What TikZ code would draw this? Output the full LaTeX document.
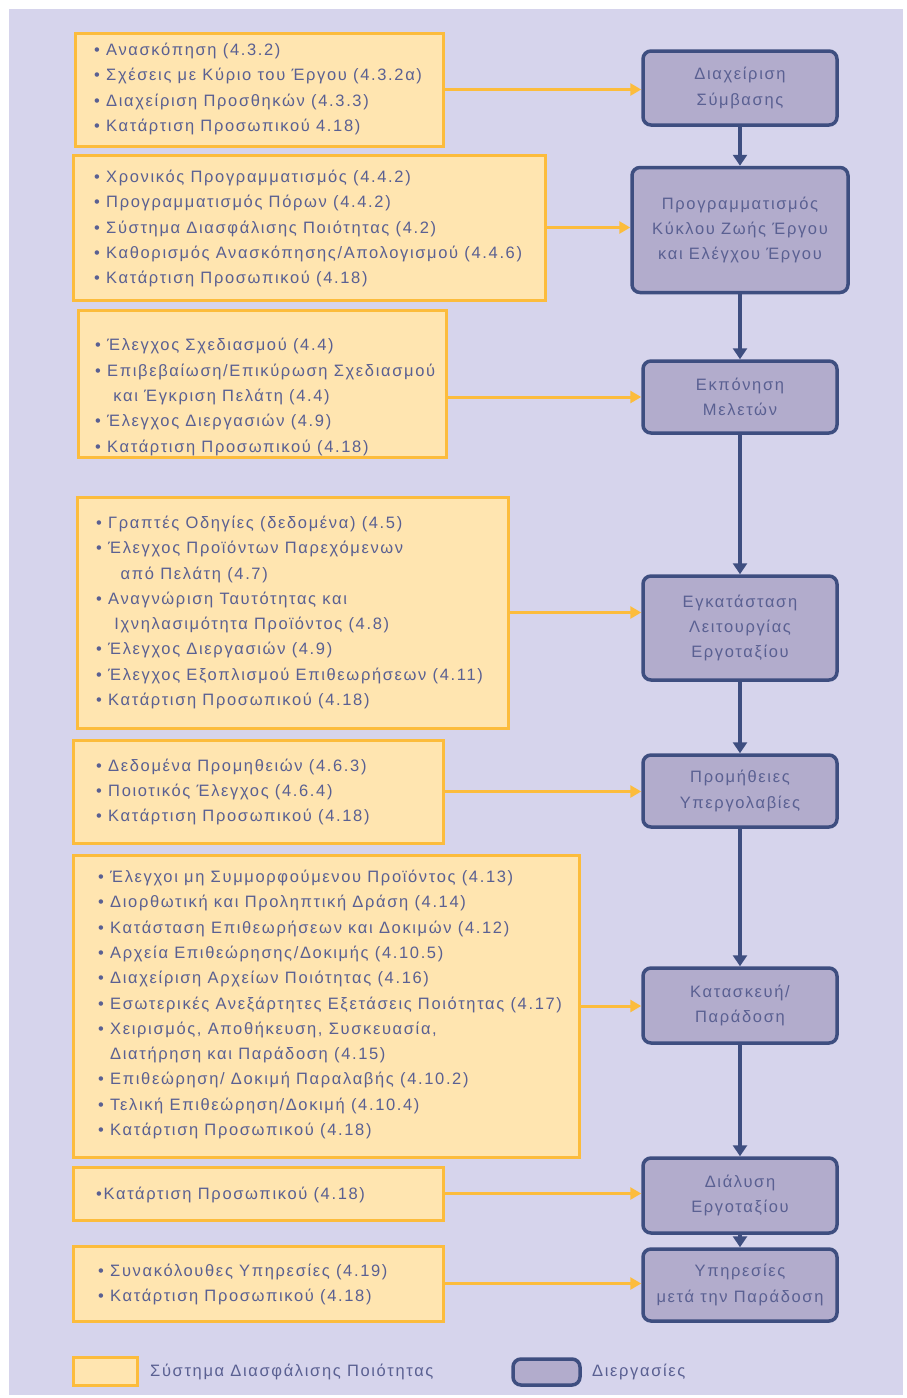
\documentclass[tikz,border=0pt]{standalone}
\usepackage{fontspec}
\setmainfont{Liberation Sans}[LetterSpace=10]
\usetikzlibrary{arrows.meta}
\definecolor{bgcol}{RGB}{214,212,236}
\definecolor{qfill}{RGB}{255,229,176}
\definecolor{qline}{RGB}{252,188,60}
\definecolor{pfill}{RGB}{178,172,204}
\definecolor{pline}{RGB}{62,78,128}
\definecolor{tcol}{RGB}{90,96,146}
\tikzset{
  qbox/.style={draw=qline, fill=qfill, line width=3pt, inner sep=0pt},
  pbox/.style={draw=pline, fill=pfill, line width=3.5pt, rounded corners=8pt, inner sep=0pt, minimum width=194pt},
  qtext/.style={anchor=west, align=left, inner sep=0pt, text=tcol, font=\fontsize{16.5}{25.3}\selectfont},
  ptext/.style={align=center, inner sep=0pt, text=tcol, font=\fontsize{16.5}{25.3}\selectfont},
  oarrow/.style={draw=qline, line width=3pt, -{Triangle[length=11pt,width=12pt]}},
  parrow/.style={draw=pline, line width=3.5pt, -{Triangle[length=11pt,width=14pt]}},
}
\newcommand{\bl}{•\ }
\newcommand{\ind}{\phantom{•\ }}
\begin{document}
\begin{tikzpicture}[x=1pt,y=-1pt]
\useasboundingbox (0,0) rectangle (907,1398);
\fill[bgcol] (9,9) rectangle (903,1395);

% process boxes
\node[pbox, minimum height=74pt] (R1) at (740,88) {};
\node[pbox, minimum width=216pt, minimum height=125pt] (R2) at (740,230) {};
\node[pbox, minimum height=72pt] (R3) at (740,397) {};
\node[pbox, minimum height=104pt] (R4) at (740,628) {};
\node[pbox, minimum height=72pt] (R5) at (740,791) {};
\node[pbox, minimum height=75pt] (R6) at (740,1005.5) {};
\node[pbox, minimum height=75pt] (R7) at (740,1195.5) {};
\node[pbox, minimum height=72pt] (R8) at (740,1285) {};

\node[ptext] (P1) at (R1) {Διαχείριση\\Σύμβασης};
\node[ptext] (P2) at (R2) {Προγραμματισμός\\Κύκλου Ζωής Έργου\\και Ελέγχου Έργου};
\node[ptext] (P3) at (R3) {Εκπόνηση\\Μελετών};
\node[ptext] (P4) at (R4) {Εγκατάσταση\\Λειτουργίας\\Εργοταξίου};
\node[ptext] (P5) at (R5) {Προμήθειες\\Υπεργολαβίες};
\node[ptext] (P6) at (R6) {Κατασκευή/\\Παράδοση};
\node[ptext] (P7) at (R7) {Διάλυση\\Εργοταξίου};
\node[ptext] (P8) at (R8) {Υπηρεσίες\\μετά την Παράδοση};

% quality boxes
\node[qbox, minimum width=368pt, minimum height=113pt] (L1) at (259,89.5) {};
\node[qbox, minimum width=472pt, minimum height=145pt] (L2) at (309,227.5) {};
\node[qbox, minimum width=368pt, minimum height=147pt] (L3) at (262,383.5) {};
\node[qbox, minimum width=431pt, minimum height=231pt] (L4) at (292.5,612.5) {};
\node[qbox, minimum width=370pt, minimum height=103pt] (L5) at (258,791.5) {};
\node[qbox, minimum width=506pt, minimum height=302pt] (L6) at (326,1006) {};
\node[qbox, minimum width=370pt, minimum height=53pt] (L7) at (258,1193.5) {};
\node[qbox, minimum width=370pt, minimum height=75pt] (L8) at (258,1283.5) {};

\node[qtext] (T1) at (94,89) {\bl Ανασκόπηση (4.3.2)\\\bl Σχέσεις με Κύριο του Έργου (4.3.2α)\\\bl Διαχείριση Προσθηκών (4.3.3)\\\bl Κατάρτιση Προσωπικού 4.18)};
\node[qtext] (T2) at (94,228.5) {\bl Χρονικός Προγραμματισμός (4.4.2)\\\bl Προγραμματισμός Πόρων (4.4.2)\\\bl Σύστημα Διασφάλισης Ποιότητας (4.2)\\\bl Καθορισμός Ανασκόπησης/Απολογισμού (4.4.6)\\\bl Κατάρτιση Προσωπικού (4.18)};
\node[qtext] (T3) at (95,397) {\bl Έλεγχος Σχεδιασμού (4.4)\\\bl Επιβεβαίωση/Επικύρωση Σχεδιασμού\\\ind\ και Έγκριση Πελάτη (4.4)\\\bl Έλεγχος Διεργασιών (4.9)\\\bl Κατάρτιση Προσωπικού (4.18)};
\node[qtext] (T4) at (96,612.5) {\bl Γραπτές Οδηγίες (δεδομένα) (4.5)\\\bl Έλεγχος Προϊόντων Παρεχόμενων\\\ind\ \ από Πελάτη (4.7)\\\bl Αναγνώριση Ταυτότητας και\\\ind\ Ιχνηλασιμότητα Προϊόντος (4.8)\\\bl Έλεγχος Διεργασιών (4.9)\\\bl Έλεγχος Εξοπλισμού Επιθεωρήσεων (4.11)\\\bl Κατάρτιση Προσωπικού (4.18)};
\node[qtext] (T5) at (96,792) {\bl Δεδομένα Προμηθειών (4.6.3)\\\bl Ποιοτικός Έλεγχος (4.6.4)\\\bl Κατάρτιση Προσωπικού (4.18)};
\node[qtext] (T6) at (98,1004.5) {\bl Έλεγχοι μη Συμμορφούμενου Προϊόντος (4.13)\\\bl Διορθωτική και Προληπτική Δράση (4.14)\\\bl Κατάσταση Επιθεωρήσεων και Δοκιμών (4.12)\\\bl Αρχεία Επιθεώρησης/Δοκιμής (4.10.5)\\\bl Διαχείριση Αρχείων Ποιότητας (4.16)\\\bl Εσωτερικές Ανεξάρτητες Εξετάσεις Ποιότητας (4.17)\\\bl Χειρισμός, Αποθήκευση, Συσκευασία,\\\ind Διατήρηση και Παράδοση (4.15)\\\bl Επιθεώρηση/ Δοκιμή Παραλαβής (4.10.2)\\\bl Τελική Επιθεώρηση/Δοκιμή (4.10.4)\\\bl Κατάρτιση Προσωπικού (4.18)};
\node[qtext] (T7) at (96,1195) {•Κατάρτιση Προσωπικού (4.18)};
\node[qtext] (T8) at (98,1284.5) {\bl Συνακόλουθες Υπηρεσίες (4.19)\\\bl Κατάρτιση Προσωπικού (4.18)};

% process flow
\draw[parrow] (R1) -- (R2);
\draw[parrow] (R2) -- (R3);
\draw[parrow] (R3) -- (R4);
\draw[parrow] (R4) -- (R5);
\draw[parrow] (R5) -- (R6);
\draw[parrow] (R6) -- (R7);
\draw[parrow] (R7) -- (R8);

% quality -> process
\draw[oarrow] (L1.east) -- (L1.east -| R1.west);
\draw[oarrow] (L2.east) -- (L2.east -| R2.west);
\draw[oarrow] (L3.east |- R3.west) -- (R3.west);
\draw[oarrow] (L4.east) -- (L4.east -| R4.west);
\draw[oarrow] (L5.east) -- (L5.east -| R5.west);
\draw[oarrow] (L6.east) -- (L6.east -| R6.west);
\draw[oarrow] (L7.east) -- (L7.east -| R7.west);
\draw[oarrow] (L8.east) -- (L8.east -| R8.west);

% legend
\node[qbox, minimum width=64pt, minimum height=28pt] (G1) at (105,1371) {};
\node[qtext] (G1t) at (150,1372) {Σύστημα Διασφάλισης Ποιότητας};
\node[pbox, minimum width=67pt, minimum height=26pt] (G2) at (546.5,1372) {};
\node[qtext] (G2t) at (592,1372) {Διεργασίες};
\end{tikzpicture}
\end{document}
